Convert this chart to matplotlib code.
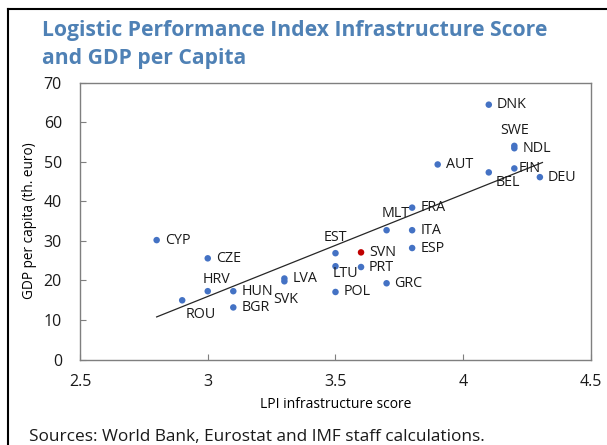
import matplotlib.pyplot as plt
from matplotlib.lines import Line2D

plt.rcParams['font.family'] = ['Open Sans', 'DejaVu Sans']

# LPI infrastructure score vs GDP per capita (th. euro)
countries = ['CYP', 'CZE', 'HRV', 'ROU', 'HUN', 'BGR', 'LVA', 'SVK', 'EST', 'LTU',
             'POL', 'SVN', 'PRT', 'MLT', 'FRA', 'ITA', 'ESP', 'GRC', 'DNK', 'SWE',
             'NDL', 'AUT', 'BEL', 'FIN', 'DEU']
lpi = [2.8, 3.0, 3.0, 2.9, 3.1, 3.1, 3.3, 3.3, 3.5, 3.5,
       3.5, 3.6, 3.6, 3.7, 3.8, 3.8, 3.8, 3.7, 4.1, 4.2,
       4.2, 3.9, 4.1, 4.2, 4.3]
gdp = [30.2, 25.6, 17.3, 15.0, 17.3, 13.2, 20.5, 19.8, 26.9, 23.6,
       17.1, 27.1, 23.4, 32.7, 38.4, 32.7, 28.2, 19.3, 64.4, 54.0,
       53.4, 49.3, 47.3, 48.3, 46.1]
highlight = 'SVN'

trend_x = [2.8, 4.31]
trend_y = [10.8, 49.8]

# label offsets in pixels (dx, dy, ha)
offsets = {
    'HRV': (9, 12, 'center'), 'ROU': (19, -14, 'center'), 'SVK': (1, -18, 'center'),
    'EST': (0, 16, 'center'), 'LTU': (10, -7, 'center'), 'MLT': (9, 17, 'center'),
    'SWE': (0, 15, 'center'), 'BEL': (19, -10, 'center'), 'FIN': (4, 0, 'left'),
}

fig = plt.figure(figsize=(6.07, 4.45), dpi=100)
ax = fig.add_axes([0.1318, 0.1917, 0.8418, 0.6229])

colors = ['#c00000' if c == highlight else '#4472c4' for c in countries]
ax.scatter(lpi, gdp, s=22, c=colors, zorder=3, linewidths=0)
ax.plot(trend_x, trend_y, color='#262626', lw=0.9, zorder=2)

for c, x, y in zip(countries, lpi, gdp):
    dx, dy, ha = offsets.get(c, (8, 0, 'left'))
    ax.annotate(c, (x, y), xytext=(dx, dy), textcoords='offset pixels',
                ha=ha, va='center', fontsize=10.3, color='#1a1a1a', zorder=4)

ax.set_xlim(2.5, 4.5)
ax.set_ylim(0, 70)
ax.set_xticks([2.5, 3, 3.5, 4, 4.5])
ax.set_xticklabels(['2.5', '3', '3.5', '4', '4.5'])
ax.set_yticks(range(0, 71, 10))
ax.tick_params(direction='in', length=4, color='#7f7f7f', labelsize=11.5,
               labelcolor='#1a1a1a')
ax.tick_params(axis='x', pad=10)
ax.tick_params(axis='y', pad=13)
for sp in ax.spines.values():
    sp.set_color('#7f7f7f')
    sp.set_linewidth(1.0)

ax.set_xlabel('LPI infrastructure score', fontsize=10, labelpad=5)
ax.set_ylabel('GDP per capita (th. euro)', fontsize=9.8, labelpad=5)

fig.text(0.069, 0.9, 'Logistic Performance Index Infrastructure Score\nand GDP per Capita',
         fontsize=15.2, fontweight='bold', color='#4f81b5', va='center', ha='left',
         linespacing=1.42)
fig.text(0.047, 0.018, 'Sources: World Bank, Eurostat and IMF staff calculations.',
         fontsize=12.4, color='#1a1a1a', ha='left', va='center')

# partial outer frame (top and left)
fig.add_artist(Line2D([0.013, 1.0], [0.98, 0.98], transform=fig.transFigure,
                      color='black', lw=1.5))
fig.add_artist(Line2D([0.013, 0.013], [0.0, 0.98], transform=fig.transFigure,
                      color='black', lw=1.5))

fig.savefig('out.png', dpi=100)
